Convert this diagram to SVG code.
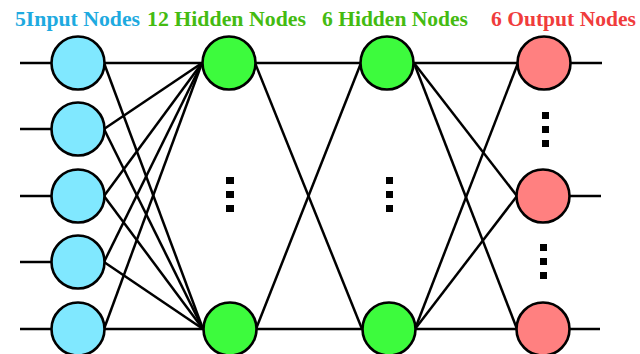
<svg xmlns="http://www.w3.org/2000/svg" width="640" height="354" viewBox="0 0 640 354">
  <style>
    .title { font-family: "Liberation Serif", "Times New Roman", serif; font-weight: bold; font-size: 20px; }
    .edges line { stroke: #000; stroke-width: 2.5; }
    .node { stroke: #000; stroke-width: 2.6; }
    .in { fill: #80e8ff; }
    .hid { fill: #3dfb3d; }
    .out { fill: #ff8080; }
    .dot { fill: #000; }
  </style>

  <!-- layer titles -->
  <g id="titles">
    <text class="title" x="15" y="26" fill="#1eaae0" textLength="125" lengthAdjust="spacingAndGlyphs">5Input Nodes</text>
    <text class="title" x="147" y="26" fill="#44bb11" textLength="159" lengthAdjust="spacingAndGlyphs">12 Hidden Nodes</text>
    <text class="title" x="322" y="26" fill="#44bb11" textLength="146" lengthAdjust="spacingAndGlyphs">6 Hidden Nodes</text>
    <text class="title" x="491" y="26" fill="#f03c3c" textLength="145" lengthAdjust="spacingAndGlyphs">6 Output Nodes</text>
  </g>

  <!-- connectors -->
  <g id="connectors" class="edges">
    <!-- input stubs -->
    <line x1="20" y1="63" x2="52" y2="63"/>
    <line x1="20" y1="129" x2="52" y2="129"/>
    <line x1="20" y1="196" x2="52" y2="196"/>
    <line x1="20" y1="262" x2="52" y2="262"/>
    <line x1="20" y1="329" x2="52" y2="329"/>
    <!-- input to hidden layer 1 -->
    <line x1="104" y1="63" x2="202" y2="63"/>
    <line x1="104" y1="129" x2="202" y2="63"/>
    <line x1="104" y1="196" x2="202" y2="63"/>
    <line x1="104" y1="262" x2="202" y2="63"/>
    <line x1="104" y1="329" x2="202" y2="63"/>
    <line x1="104" y1="63" x2="203" y2="329"/>
    <line x1="104" y1="129" x2="203" y2="329"/>
    <line x1="104" y1="196" x2="203" y2="329"/>
    <line x1="104" y1="262" x2="203" y2="329"/>
    <line x1="104" y1="329" x2="203" y2="329"/>
    <!-- hidden layer 1 to hidden layer 2 -->
    <line x1="255" y1="63" x2="361" y2="63"/>
    <line x1="255" y1="63" x2="362" y2="329"/>
    <line x1="256" y1="329" x2="361" y2="63"/>
    <line x1="256" y1="329" x2="362" y2="329"/>
    <!-- hidden layer 2 to output -->
    <line x1="414" y1="63" x2="518" y2="63"/>
    <line x1="414" y1="63" x2="517" y2="196"/>
    <line x1="414" y1="63" x2="517" y2="329"/>
    <line x1="415" y1="329" x2="518" y2="63"/>
    <line x1="415" y1="329" x2="517" y2="196"/>
    <line x1="415" y1="329" x2="517" y2="329"/>
    <!-- output stubs -->
    <line x1="570" y1="63" x2="602" y2="63"/>
    <line x1="570" y1="196" x2="601" y2="196"/>
    <line x1="570" y1="329" x2="600" y2="329"/>
  </g>

  <!-- input layer -->
  <g id="in1"><circle class="node in" cx="78" cy="63" r="26.5"/></g>
  <g id="in2"><circle class="node in" cx="78" cy="129" r="26.5"/></g>
  <g id="in3"><circle class="node in" cx="78" cy="196" r="26.5"/></g>
  <g id="in4"><circle class="node in" cx="78" cy="262" r="26.5"/></g>
  <g id="in5"><circle class="node in" cx="78" cy="329" r="26.5"/></g>

  <!-- hidden layer 1 -->
  <g id="h1a"><circle class="node hid" cx="229" cy="63" r="26.5"/></g>
  <g id="h1b"><circle class="node hid" cx="230" cy="329" r="26.5"/></g>
  <g id="h1dots">
    <rect class="dot" x="226" y="177" width="8" height="7"/>
    <rect class="dot" x="226" y="191" width="8" height="7"/>
    <rect class="dot" x="226" y="205" width="8" height="7"/>
  </g>

  <!-- hidden layer 2 -->
  <g id="h2a"><circle class="node hid" cx="387" cy="63" r="26.5"/></g>
  <g id="h2b"><circle class="node hid" cx="389" cy="329" r="26.5"/></g>
  <g id="h2dots">
    <rect class="dot" x="386" y="177" width="7" height="7"/>
    <rect class="dot" x="386" y="191" width="7" height="7"/>
    <rect class="dot" x="386" y="205" width="7" height="7"/>
  </g>

  <!-- output layer -->
  <g id="o1"><circle class="node out" cx="544" cy="63" r="26.5"/></g>
  <g id="o2"><circle class="node out" cx="543" cy="196" r="26.5"/></g>
  <g id="o3"><circle class="node out" cx="543" cy="329" r="26.5"/></g>
  <g id="odots1">
    <rect class="dot" x="542" y="112" width="7" height="7"/>
    <rect class="dot" x="542" y="126" width="7" height="7"/>
    <rect class="dot" x="542" y="140" width="7" height="7"/>
  </g>
  <g id="odots2">
    <rect class="dot" x="540" y="244" width="7" height="7"/>
    <rect class="dot" x="540" y="258" width="7" height="7"/>
    <rect class="dot" x="540" y="272" width="7" height="7"/>
  </g>
</svg>
